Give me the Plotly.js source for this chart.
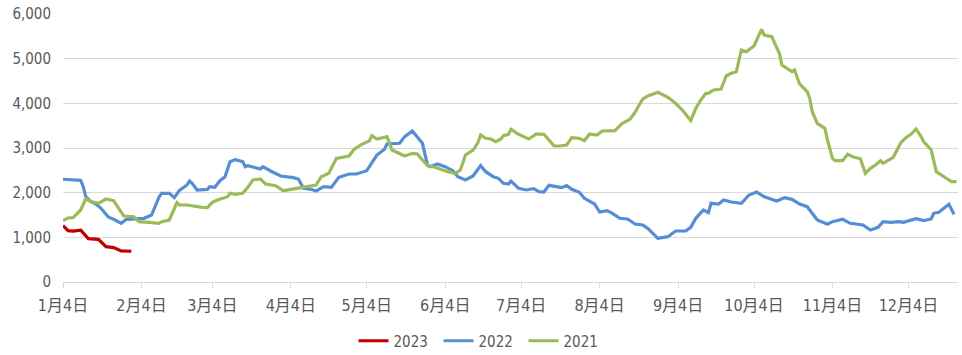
<!DOCTYPE html>
<html>
<head>
<meta charset="utf-8">
<script src="https://cdn.plot.ly/plotly-3.0.1.min.js"></script>
<style>html,body{margin:0;padding:0;background:#fff;}#chart{width:962px;height:355px;}</style>
</head>
<body>
<div id="chart"></div>
<script>
// Month-day positions (shared axis), values per year
const dates2023 = ["01-04","01-06","01-08","01-11","01-14","01-18","01-21","01-24","01-27","01-31"];
const values2023 = [1265,1150,1140,1160,970,955,790,770,695,688];

const dates2022 = ["01-04","01-08","01-11","01-12","01-13","01-15","01-17","01-19","01-22","01-24","01-27","01-29",
  "02-02","02-05","02-08","02-11","02-12","02-15","02-17","02-19","02-22","02-23","02-24","02-26",
  "03-02","03-03","03-05","03-07","03-09","03-11","03-13","03-16","03-17","03-18","03-23","03-24","03-27","03-31",
  "04-05","04-07","04-09","04-12","04-14","04-17","04-20","04-23","04-27","04-30",
  "05-04","05-08","05-11","05-12","05-17","05-19","05-22","05-24","05-26","05-28","05-29",
  "06-01","06-04","06-07","06-09","06-12","06-15","06-18","06-20","06-23","06-25","06-27","06-29","06-30",
  "07-03","07-06","07-09","07-11","07-13","07-15","07-17","07-20","07-22","07-24","07-27","07-29",
  "08-02","08-04","08-07","08-09","08-12","08-15","08-18","08-21","08-23","08-27","08-31",
  "09-03","09-07","09-09","09-11","09-14","09-16","09-17","09-20","09-22","09-25","09-29",
  "10-02","10-05","10-08","10-11","10-13","10-16","10-19","10-22","10-25","10-29",
  "11-02","11-04","11-08","11-11","11-14","11-16","11-19","11-22","11-24","11-27","11-30",
  "12-02","12-07","12-10","12-13","12-14","12-16","12-20","12-22"];
const values2022 = [2300,2295,2277,2134,1910,1798,1746,1650,1449,1404,1314,1404,
  1426,1426,1500,1910,1986,1986,1890,2050,2172,2261,2209,2060,
  2075,2134,2120,2268,2358,2694,2740,2694,2582,2605,2530,2582,2485,2373,
  2336,2306,2098,2075,2037,2134,2120,2343,2418,2418,
  2492,2843,2971,3090,3105,3254,3381,3254,3105,2620,2582,
  2642,2582,2492,2358,2284,2373,2605,2470,2358,2321,2209,2194,2261,
  2098,2060,2089,2022,2015,2164,2150,2112,2157,2075,2008,1874,
  1746,1567,1597,1538,1426,1411,1299,1276,1202,978,1015,
  1142,1142,1224,1426,1612,1552,1762,1746,1836,1791,1762,
  1948,2015,1910,1858,1814,1888,1851,1746,1686,1388,
  1292,1350,1404,1314,1292,1276,1164,1224,1350,1336,1350,
  1336,1418,1373,1411,1538,1560,1739,1515];

const dates2021 = ["01-04","01-06","01-08","01-11","01-13","01-15","01-18","01-21","01-24","01-26","01-28",
  "02-01","02-03","02-07","02-11","02-12","02-15","02-18","02-19","02-22","02-24","02-28",
  "03-02","03-04","03-06","03-10","03-11","03-13","03-16","03-18","03-20","03-23","03-25","03-29",
  "04-01","04-04","04-07","04-10","04-12","04-14","04-16","04-19","04-22","04-25","04-27","04-29",
  "05-02","05-05","05-06","05-08","05-12","05-14","05-16","05-19","05-22","05-24","05-26","05-28","05-31",
  "06-03","06-05","06-08","06-10","06-12","06-15","06-17","06-18","06-20","06-22","06-24","06-26","06-27","06-29","06-30",
  "07-03","07-05","07-07","07-10","07-13","07-15","07-17","07-19","07-22","07-24","07-27","07-29","07-31",
  "08-03","08-05","08-10","08-13","08-16","08-18","08-20","08-21","08-23","08-25","08-27","08-31",
  "09-03","09-06","09-08","09-09","09-11","09-13","09-15","09-16","09-18","09-21","09-23","09-25","09-27","09-29",
  "10-01","10-03","10-04","10-07","10-08","10-11","10-12","10-14","10-15","10-18","10-19","10-20","10-22","10-25","10-26","10-27","10-29",
  "11-01","11-02","11-04","11-05","11-08","11-10","11-12","11-15","11-17","11-19","11-21","11-23","11-24","11-26","11-28",
  "12-01","12-03","12-05","12-07","12-09","12-10","12-13","12-15","12-17","12-19","12-21","12-23"];
const values2021 = [1375,1433,1440,1612,1865,1798,1762,1858,1820,1650,1478,
  1462,1350,1336,1314,1350,1388,1776,1724,1724,1702,1672,
  1664,1784,1836,1910,1986,1963,1986,2120,2284,2306,2194,2157,
  2044,2075,2098,2120,2150,2172,2358,2433,2769,2806,2821,2971,
  3083,3157,3276,3202,3254,2955,2904,2821,2881,2866,2732,2605,2568,
  2508,2470,2433,2508,2843,2955,3128,3291,3217,3202,3142,3202,3276,3307,3419,
  3307,3254,3202,3314,3307,3180,3045,3045,3067,3231,3217,3164,3314,
  3291,3381,3388,3553,3643,3800,4000,4091,4165,4203,4247,4135,
  4001,3829,3701,3611,3889,4075,4225,4225,4299,4321,4612,4673,4709,5195,
  5157,5255,5284,5658,5530,5493,5381,5121,4859,4762,4709,4747,4434,4261,4113,3813,3553,
  3441,3180,2769,2716,2716,2859,2806,2760,2433,2545,2620,2716,2657,2716,2792,
  3119,3231,3307,3426,3254,3142,2955,2470,2396,2321,2246,2246];

const tickDates = ["01-04","02-04","03-04","04-04","05-04","06-04","07-04","08-04","09-04","10-04","11-04","12-04"];
const tickLabels = ["1月4日","2月4日","3月4日","4月4日","5月4日","6月4日","7月4日","8月4日","9月4日","10月4日","11月4日","12月4日"];

const YEAR = "2021-";
const toX = arr => arr.map(d => YEAR + d);
const FONT = "'Liberation Sans Narrow', 'DejaVu Sans Condensed', 'Noto Sans CJK SC', sans-serif";

const traces = [
  {name: "2023", x: toX(dates2023), y: values2023, type: "scatter", mode: "lines",
   line: {color: "#C00000", width: 3.2}},
  {name: "2022", x: toX(dates2022), y: values2022, type: "scatter", mode: "lines",
   line: {color: "#558ED5", width: 3.2}},
  {name: "2021", x: toX(dates2021), y: values2021, type: "scatter", mode: "lines",
   line: {color: "#9BBB59", width: 3.2}}
];

const layout = {
  width: 962, height: 355,
  margin: {l: 63, r: 4, t: 14, b: 73},
  paper_bgcolor: "#ffffff", plot_bgcolor: "#ffffff",
  font: {family: FONT, color: "#595959", size: 15},
  showlegend: true,
  legend: {orientation: "h", xref: "container", yref: "container",
           x: 0.5, xanchor: "center", y: 1 - 341/355, yanchor: "middle",
           font: {size: 15, color: "#595959"},
           entrywidth: 40, entrywidthmode: "pixels", traceorder: "normal"},
  xaxis: {
    type: "date",
    range: [YEAR + "01-04", YEAR + "12-23 14:00"],
    tickvals: toX(tickDates), ticktext: tickLabels,
    showgrid: false, zeroline: false,
    showline: true, linecolor: "#d9d9d9", linewidth: 1,
    ticks: "outside", ticklen: 5, tickcolor: "#d9d9d9",
    tickfont: {size: 16, color: "#595959"},
    ticklabelstandoff: 4,
    fixedrange: true
  },
  yaxis: {
    range: [0, 6000], tickvals: [0,1000,2000,3000,4000,5000,6000],
    tickformat: ",d",
    showgrid: true, gridcolor: "#d9d9d9", gridwidth: 1,
    zeroline: false, showline: false, ticks: "",
    tickfont: {size: 15, color: "#595959"},
    ticklabelstandoff: 11,
    fixedrange: true
  }
};

Plotly.newPlot("chart", traces, layout, {displayModeBar: false, staticPlot: true});
</script>
</body>
</html>
